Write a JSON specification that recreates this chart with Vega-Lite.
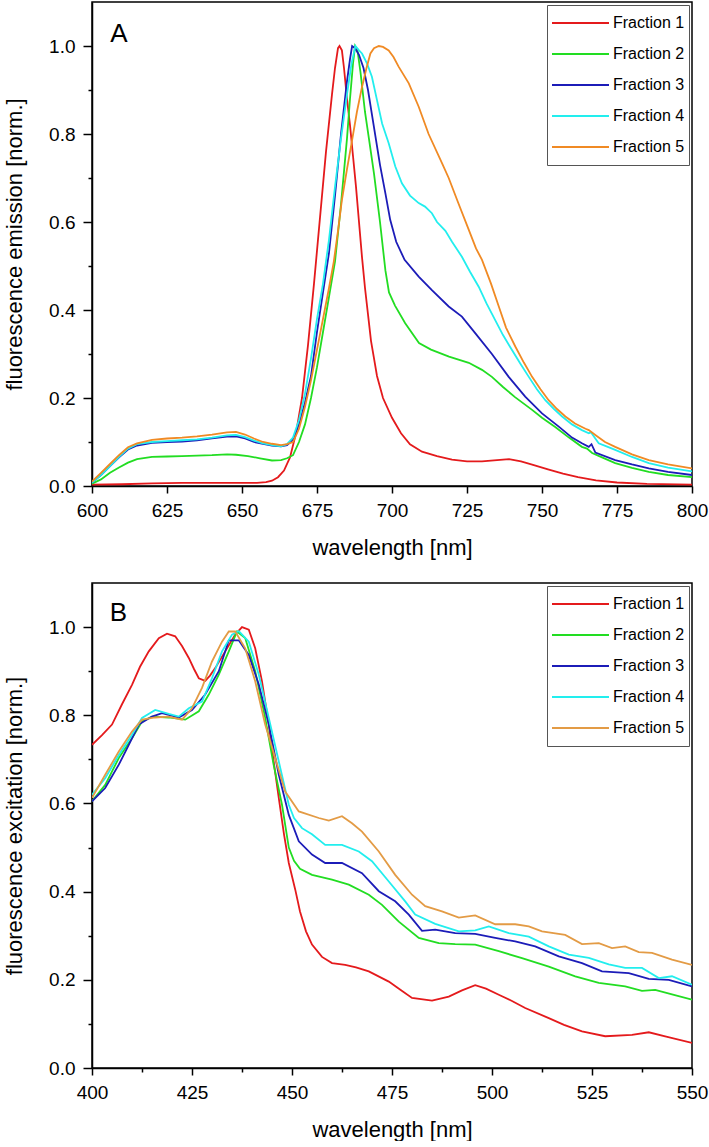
{
"$schema":"https://vega.github.io/schema/vega-lite/v6.json",
"padding":{"left":2,"top":1,"right":0,"bottom":0},
"spacing":23,
"config":{
 "font":"Liberation Sans",
 "view":{"stroke":"black","strokeWidth":1.5},
 "axis":{"domainColor":"black","domainWidth":1.5,"tickColor":"black","tickWidth":1.5,"labelFontSize":19,"titleFontSize":22,"labelColor":"black","titleColor":"black","titleFontWeight":"normal","grid":false,"labelFont":"Liberation Sans","titleFont":"Liberation Sans","labelOverlap":false,"labelFlush":false},
 "legend":{"orient":"top-right","offset":3,"strokeColor":"#555","fillColor":"white","padding":4,"labelFontSize":16,"labelFont":"Liberation Sans","labelColor":"black","symbolType":"stroke","symbolStrokeWidth":2,"symbolSize":3249,"labelOffset":3,"rowPadding":3,"clipHeight":28}
},
"resolve":{"scale":{"color":"independent"},"legend":{"color":"independent"}},
"datasets":{
"em":[
{"s":"Fraction 1","x":600,"y":0.003},{"s":"Fraction 1","x":610,"y":0.004},{"s":"Fraction 1","x":620,"y":0.006},{"s":"Fraction 1","x":630,"y":0.007},{"s":"Fraction 1","x":640,"y":0.007},{"s":"Fraction 1","x":650,"y":0.007},{"s":"Fraction 1","x":655,"y":0.007},{"s":"Fraction 1","x":658,"y":0.009},{"s":"Fraction 1","x":660,"y":0.012},{"s":"Fraction 1","x":662,"y":0.02},{"s":"Fraction 1","x":664,"y":0.035},{"s":"Fraction 1","x":666,"y":0.065},{"s":"Fraction 1","x":668,"y":0.12},{"s":"Fraction 1","x":670,"y":0.2},{"s":"Fraction 1","x":672,"y":0.32},{"s":"Fraction 1","x":674,"y":0.46},{"s":"Fraction 1","x":676,"y":0.61},{"s":"Fraction 1","x":678,"y":0.76},{"s":"Fraction 1","x":680,"y":0.89},{"s":"Fraction 1","x":681,"y":0.95},{"s":"Fraction 1","x":682,"y":0.995},{"s":"Fraction 1","x":682.5,"y":1.0},{"s":"Fraction 1","x":683.3,"y":0.99},{"s":"Fraction 1","x":684,"y":0.95},{"s":"Fraction 1","x":685,"y":0.88},{"s":"Fraction 1","x":686,"y":0.82},{"s":"Fraction 1","x":687,"y":0.75},{"s":"Fraction 1","x":688,"y":0.68},{"s":"Fraction 1","x":689,"y":0.6},{"s":"Fraction 1","x":690,"y":0.52},{"s":"Fraction 1","x":691,"y":0.45},{"s":"Fraction 1","x":692,"y":0.39},{"s":"Fraction 1","x":693,"y":0.33},{"s":"Fraction 1","x":694,"y":0.29},{"s":"Fraction 1","x":695,"y":0.25},{"s":"Fraction 1","x":697,"y":0.2},{"s":"Fraction 1","x":700,"y":0.155},{"s":"Fraction 1","x":703,"y":0.12},{"s":"Fraction 1","x":706,"y":0.095},{"s":"Fraction 1","x":710,"y":0.078},{"s":"Fraction 1","x":715,"y":0.068},{"s":"Fraction 1","x":720,"y":0.06},{"s":"Fraction 1","x":725,"y":0.056},{"s":"Fraction 1","x":730,"y":0.056},{"s":"Fraction 1","x":735,"y":0.059},{"s":"Fraction 1","x":739,"y":0.061},{"s":"Fraction 1","x":743,"y":0.056},{"s":"Fraction 1","x":747,"y":0.048},{"s":"Fraction 1","x":752,"y":0.038},{"s":"Fraction 1","x":757,"y":0.028},{"s":"Fraction 1","x":762,"y":0.02},{"s":"Fraction 1","x":768,"y":0.013},{"s":"Fraction 1","x":775,"y":0.008},{"s":"Fraction 1","x":785,"y":0.005},{"s":"Fraction 1","x":800,"y":0.003},
{"s":"Fraction 2","x":600,"y":0.005},{"s":"Fraction 2","x":603,"y":0.015},{"s":"Fraction 2","x":606,"y":0.03},{"s":"Fraction 2","x":609,"y":0.042},{"s":"Fraction 2","x":612,"y":0.053},{"s":"Fraction 2","x":615,"y":0.061},{"s":"Fraction 2","x":620,"y":0.066},{"s":"Fraction 2","x":625,"y":0.067},{"s":"Fraction 2","x":630,"y":0.068},{"s":"Fraction 2","x":635,"y":0.069},{"s":"Fraction 2","x":640,"y":0.07},{"s":"Fraction 2","x":645,"y":0.072},{"s":"Fraction 2","x":648,"y":0.071},{"s":"Fraction 2","x":652,"y":0.068},{"s":"Fraction 2","x":656,"y":0.063},{"s":"Fraction 2","x":660,"y":0.058},{"s":"Fraction 2","x":663,"y":0.059},{"s":"Fraction 2","x":665,"y":0.063},{"s":"Fraction 2","x":667,"y":0.07},{"s":"Fraction 2","x":669,"y":0.1},{"s":"Fraction 2","x":671,"y":0.14},{"s":"Fraction 2","x":673,"y":0.2},{"s":"Fraction 2","x":675,"y":0.27},{"s":"Fraction 2","x":677,"y":0.35},{"s":"Fraction 2","x":679,"y":0.43},{"s":"Fraction 2","x":681,"y":0.51},{"s":"Fraction 2","x":683,"y":0.64},{"s":"Fraction 2","x":685,"y":0.79},{"s":"Fraction 2","x":686,"y":0.88},{"s":"Fraction 2","x":687,"y":0.96},{"s":"Fraction 2","x":687.7,"y":1.0},{"s":"Fraction 2","x":688.5,"y":0.99},{"s":"Fraction 2","x":689.5,"y":0.94},{"s":"Fraction 2","x":691,"y":0.85},{"s":"Fraction 2","x":692.3,"y":0.79},{"s":"Fraction 2","x":694,"y":0.71},{"s":"Fraction 2","x":696,"y":0.6},{"s":"Fraction 2","x":697.8,"y":0.49},{"s":"Fraction 2","x":699,"y":0.44},{"s":"Fraction 2","x":701,"y":0.41},{"s":"Fraction 2","x":704.4,"y":0.37},{"s":"Fraction 2","x":709,"y":0.325},{"s":"Fraction 2","x":713,"y":0.31},{"s":"Fraction 2","x":719,"y":0.294},{"s":"Fraction 2","x":725.6,"y":0.28},{"s":"Fraction 2","x":730,"y":0.264},{"s":"Fraction 2","x":733.3,"y":0.248},{"s":"Fraction 2","x":737,"y":0.225},{"s":"Fraction 2","x":741,"y":0.202},{"s":"Fraction 2","x":746.7,"y":0.173},{"s":"Fraction 2","x":750,"y":0.155},{"s":"Fraction 2","x":754.4,"y":0.134},{"s":"Fraction 2","x":759,"y":0.11},{"s":"Fraction 2","x":763.3,"y":0.089},{"s":"Fraction 2","x":765,"y":0.085},{"s":"Fraction 2","x":766.7,"y":0.075},{"s":"Fraction 2","x":770,"y":0.065},{"s":"Fraction 2","x":774.4,"y":0.052},{"s":"Fraction 2","x":780,"y":0.041},{"s":"Fraction 2","x":785.6,"y":0.032},{"s":"Fraction 2","x":792,"y":0.025},{"s":"Fraction 2","x":800,"y":0.02},
{"s":"Fraction 3","x":600,"y":0.008},{"s":"Fraction 3","x":603,"y":0.025},{"s":"Fraction 3","x":606,"y":0.045},{"s":"Fraction 3","x":609,"y":0.065},{"s":"Fraction 3","x":612,"y":0.083},{"s":"Fraction 3","x":615,"y":0.092},{"s":"Fraction 3","x":620,"y":0.098},{"s":"Fraction 3","x":625,"y":0.1},{"s":"Fraction 3","x":630,"y":0.101},{"s":"Fraction 3","x":635,"y":0.104},{"s":"Fraction 3","x":640,"y":0.108},{"s":"Fraction 3","x":645,"y":0.112},{"s":"Fraction 3","x":648,"y":0.113},{"s":"Fraction 3","x":651,"y":0.108},{"s":"Fraction 3","x":654,"y":0.1},{"s":"Fraction 3","x":657,"y":0.096},{"s":"Fraction 3","x":660,"y":0.092},{"s":"Fraction 3","x":663,"y":0.09},{"s":"Fraction 3","x":665,"y":0.093},{"s":"Fraction 3","x":667,"y":0.105},{"s":"Fraction 3","x":669,"y":0.14},{"s":"Fraction 3","x":671,"y":0.19},{"s":"Fraction 3","x":673,"y":0.25},{"s":"Fraction 3","x":675,"y":0.35},{"s":"Fraction 3","x":677,"y":0.44},{"s":"Fraction 3","x":679,"y":0.53},{"s":"Fraction 3","x":681,"y":0.66},{"s":"Fraction 3","x":683,"y":0.8},{"s":"Fraction 3","x":685,"y":0.92},{"s":"Fraction 3","x":686,"y":0.97},{"s":"Fraction 3","x":686.7,"y":1.0},{"s":"Fraction 3","x":687.7,"y":0.995},{"s":"Fraction 3","x":689,"y":0.98},{"s":"Fraction 3","x":690.5,"y":0.95},{"s":"Fraction 3","x":692,"y":0.9},{"s":"Fraction 3","x":694,"y":0.815},{"s":"Fraction 3","x":696,"y":0.73},{"s":"Fraction 3","x":697.8,"y":0.665},{"s":"Fraction 3","x":699.4,"y":0.605},{"s":"Fraction 3","x":701.4,"y":0.555},{"s":"Fraction 3","x":704.2,"y":0.514},{"s":"Fraction 3","x":708.9,"y":0.476},{"s":"Fraction 3","x":713.3,"y":0.445},{"s":"Fraction 3","x":718.9,"y":0.408},{"s":"Fraction 3","x":723.3,"y":0.385},{"s":"Fraction 3","x":727.8,"y":0.347},{"s":"Fraction 3","x":733.3,"y":0.3},{"s":"Fraction 3","x":738.9,"y":0.248},{"s":"Fraction 3","x":744.4,"y":0.203},{"s":"Fraction 3","x":750,"y":0.165},{"s":"Fraction 3","x":755.6,"y":0.135},{"s":"Fraction 3","x":760,"y":0.11},{"s":"Fraction 3","x":763.3,"y":0.097},{"s":"Fraction 3","x":765.6,"y":0.089},{"s":"Fraction 3","x":766.5,"y":0.095},{"s":"Fraction 3","x":767.8,"y":0.076},{"s":"Fraction 3","x":774.4,"y":0.059},{"s":"Fraction 3","x":780,"y":0.049},{"s":"Fraction 3","x":785.6,"y":0.04},{"s":"Fraction 3","x":792,"y":0.032},{"s":"Fraction 3","x":800,"y":0.025},
{"s":"Fraction 4","x":600,"y":0.008},{"s":"Fraction 4","x":603,"y":0.025},{"s":"Fraction 4","x":606,"y":0.045},{"s":"Fraction 4","x":609,"y":0.066},{"s":"Fraction 4","x":612,"y":0.085},{"s":"Fraction 4","x":615,"y":0.095},{"s":"Fraction 4","x":620,"y":0.1},{"s":"Fraction 4","x":625,"y":0.102},{"s":"Fraction 4","x":630,"y":0.104},{"s":"Fraction 4","x":635,"y":0.106},{"s":"Fraction 4","x":640,"y":0.11},{"s":"Fraction 4","x":645,"y":0.115},{"s":"Fraction 4","x":648,"y":0.116},{"s":"Fraction 4","x":651,"y":0.111},{"s":"Fraction 4","x":654,"y":0.103},{"s":"Fraction 4","x":657,"y":0.097},{"s":"Fraction 4","x":660,"y":0.093},{"s":"Fraction 4","x":663,"y":0.09},{"s":"Fraction 4","x":665,"y":0.095},{"s":"Fraction 4","x":667,"y":0.11},{"s":"Fraction 4","x":669,"y":0.15},{"s":"Fraction 4","x":671,"y":0.21},{"s":"Fraction 4","x":673,"y":0.29},{"s":"Fraction 4","x":675,"y":0.38},{"s":"Fraction 4","x":677,"y":0.46},{"s":"Fraction 4","x":679,"y":0.56},{"s":"Fraction 4","x":681,"y":0.68},{"s":"Fraction 4","x":683,"y":0.79},{"s":"Fraction 4","x":685,"y":0.89},{"s":"Fraction 4","x":686.5,"y":0.96},{"s":"Fraction 4","x":687.8,"y":1.0},{"s":"Fraction 4","x":689,"y":0.99},{"s":"Fraction 4","x":690,"y":0.983},{"s":"Fraction 4","x":691.7,"y":0.96},{"s":"Fraction 4","x":693.3,"y":0.93},{"s":"Fraction 4","x":695,"y":0.877},{"s":"Fraction 4","x":696.7,"y":0.824},{"s":"Fraction 4","x":698.9,"y":0.779},{"s":"Fraction 4","x":701.1,"y":0.726},{"s":"Fraction 4","x":703.3,"y":0.688},{"s":"Fraction 4","x":706,"y":0.66},{"s":"Fraction 4","x":708.9,"y":0.643},{"s":"Fraction 4","x":711,"y":0.635},{"s":"Fraction 4","x":713.3,"y":0.62},{"s":"Fraction 4","x":715,"y":0.6},{"s":"Fraction 4","x":717.8,"y":0.58},{"s":"Fraction 4","x":720,"y":0.555},{"s":"Fraction 4","x":723.3,"y":0.521},{"s":"Fraction 4","x":726,"y":0.487},{"s":"Fraction 4","x":728.9,"y":0.453},{"s":"Fraction 4","x":731.5,"y":0.415},{"s":"Fraction 4","x":734.4,"y":0.377},{"s":"Fraction 4","x":737,"y":0.343},{"s":"Fraction 4","x":740,"y":0.309},{"s":"Fraction 4","x":742.8,"y":0.278},{"s":"Fraction 4","x":745.6,"y":0.248},{"s":"Fraction 4","x":748.3,"y":0.22},{"s":"Fraction 4","x":751.1,"y":0.195},{"s":"Fraction 4","x":754,"y":0.175},{"s":"Fraction 4","x":756.7,"y":0.158},{"s":"Fraction 4","x":760,"y":0.14},{"s":"Fraction 4","x":763.3,"y":0.127},{"s":"Fraction 4","x":765.6,"y":0.12},{"s":"Fraction 4","x":766.3,"y":0.122},{"s":"Fraction 4","x":768.9,"y":0.097},{"s":"Fraction 4","x":771.5,"y":0.09},{"s":"Fraction 4","x":774.4,"y":0.082},{"s":"Fraction 4","x":780,"y":0.066},{"s":"Fraction 4","x":785.6,"y":0.052},{"s":"Fraction 4","x":792,"y":0.042},{"s":"Fraction 4","x":800,"y":0.033},
{"s":"Fraction 5","x":600,"y":0.01},{"s":"Fraction 5","x":603,"y":0.03},{"s":"Fraction 5","x":606,"y":0.05},{"s":"Fraction 5","x":609,"y":0.07},{"s":"Fraction 5","x":612,"y":0.088},{"s":"Fraction 5","x":615,"y":0.097},{"s":"Fraction 5","x":620,"y":0.105},{"s":"Fraction 5","x":625,"y":0.108},{"s":"Fraction 5","x":630,"y":0.11},{"s":"Fraction 5","x":635,"y":0.113},{"s":"Fraction 5","x":640,"y":0.117},{"s":"Fraction 5","x":645,"y":0.122},{"s":"Fraction 5","x":648,"y":0.123},{"s":"Fraction 5","x":651,"y":0.117},{"s":"Fraction 5","x":654,"y":0.108},{"s":"Fraction 5","x":657,"y":0.1},{"s":"Fraction 5","x":660,"y":0.096},{"s":"Fraction 5","x":663,"y":0.093},{"s":"Fraction 5","x":665,"y":0.095},{"s":"Fraction 5","x":667,"y":0.1},{"s":"Fraction 5","x":669,"y":0.13},{"s":"Fraction 5","x":671,"y":0.18},{"s":"Fraction 5","x":673,"y":0.24},{"s":"Fraction 5","x":675,"y":0.31},{"s":"Fraction 5","x":677,"y":0.38},{"s":"Fraction 5","x":679,"y":0.45},{"s":"Fraction 5","x":680.6,"y":0.51},{"s":"Fraction 5","x":682,"y":0.58},{"s":"Fraction 5","x":683.3,"y":0.65},{"s":"Fraction 5","x":685,"y":0.72},{"s":"Fraction 5","x":686.7,"y":0.786},{"s":"Fraction 5","x":688.3,"y":0.85},{"s":"Fraction 5","x":690,"y":0.907},{"s":"Fraction 5","x":691.5,"y":0.95},{"s":"Fraction 5","x":692.8,"y":0.983},{"s":"Fraction 5","x":694,"y":0.995},{"s":"Fraction 5","x":695.6,"y":1.0},{"s":"Fraction 5","x":697,"y":0.998},{"s":"Fraction 5","x":698.9,"y":0.99},{"s":"Fraction 5","x":700.5,"y":0.975},{"s":"Fraction 5","x":702.2,"y":0.953},{"s":"Fraction 5","x":705.6,"y":0.915},{"s":"Fraction 5","x":708.9,"y":0.862},{"s":"Fraction 5","x":712.2,"y":0.8},{"s":"Fraction 5","x":716.7,"y":0.733},{"s":"Fraction 5","x":718.9,"y":0.7},{"s":"Fraction 5","x":722,"y":0.645},{"s":"Fraction 5","x":725.6,"y":0.582},{"s":"Fraction 5","x":728,"y":0.54},{"s":"Fraction 5","x":730,"y":0.514},{"s":"Fraction 5","x":733,"y":0.46},{"s":"Fraction 5","x":735.6,"y":0.408},{"s":"Fraction 5","x":738,"y":0.36},{"s":"Fraction 5","x":741.1,"y":0.317},{"s":"Fraction 5","x":744,"y":0.28},{"s":"Fraction 5","x":746.7,"y":0.248},{"s":"Fraction 5","x":749.5,"y":0.22},{"s":"Fraction 5","x":752.2,"y":0.195},{"s":"Fraction 5","x":755,"y":0.175},{"s":"Fraction 5","x":757.8,"y":0.158},{"s":"Fraction 5","x":761,"y":0.142},{"s":"Fraction 5","x":764.5,"y":0.13},{"s":"Fraction 5","x":765.6,"y":0.127},{"s":"Fraction 5","x":768,"y":0.115},{"s":"Fraction 5","x":771,"y":0.1},{"s":"Fraction 5","x":774.4,"y":0.089},{"s":"Fraction 5","x":780,"y":0.072},{"s":"Fraction 5","x":785.6,"y":0.059},{"s":"Fraction 5","x":792,"y":0.049},{"s":"Fraction 5","x":800,"y":0.04}
],
"ex":[
{"s":"Fraction 1","x":400,"y":0.733},{"s":"Fraction 1","x":402.5,"y":0.755},{"s":"Fraction 1","x":405,"y":0.779},{"s":"Fraction 1","x":407.5,"y":0.825},{"s":"Fraction 1","x":410,"y":0.869},{"s":"Fraction 1","x":412,"y":0.91},{"s":"Fraction 1","x":414.2,"y":0.945},{"s":"Fraction 1","x":416.7,"y":0.975},{"s":"Fraction 1","x":418.75,"y":0.985},{"s":"Fraction 1","x":420.8,"y":0.979},{"s":"Fraction 1","x":422.5,"y":0.957},{"s":"Fraction 1","x":424.2,"y":0.93},{"s":"Fraction 1","x":425.5,"y":0.905},{"s":"Fraction 1","x":426.7,"y":0.884},{"s":"Fraction 1","x":428.3,"y":0.878},{"s":"Fraction 1","x":429.5,"y":0.89},{"s":"Fraction 1","x":430.8,"y":0.907},{"s":"Fraction 1","x":433.3,"y":0.945},{"s":"Fraction 1","x":435.8,"y":0.983},{"s":"Fraction 1","x":437.5,"y":1.0},{"s":"Fraction 1","x":439.2,"y":0.994},{"s":"Fraction 1","x":440.8,"y":0.952},{"s":"Fraction 1","x":442.5,"y":0.877},{"s":"Fraction 1","x":444.2,"y":0.779},{"s":"Fraction 1","x":445.5,"y":0.69},{"s":"Fraction 1","x":446.7,"y":0.612},{"s":"Fraction 1","x":448,"y":0.53},{"s":"Fraction 1","x":449.2,"y":0.465},{"s":"Fraction 1","x":450.8,"y":0.405},{"s":"Fraction 1","x":452,"y":0.355},{"s":"Fraction 1","x":453.5,"y":0.31},{"s":"Fraction 1","x":455,"y":0.28},{"s":"Fraction 1","x":457.5,"y":0.252},{"s":"Fraction 1","x":460,"y":0.238},{"s":"Fraction 1","x":463.3,"y":0.234},{"s":"Fraction 1","x":466,"y":0.228},{"s":"Fraction 1","x":469.2,"y":0.219},{"s":"Fraction 1","x":474.2,"y":0.196},{"s":"Fraction 1","x":477,"y":0.178},{"s":"Fraction 1","x":480,"y":0.159},{"s":"Fraction 1","x":485,"y":0.153},{"s":"Fraction 1","x":489.2,"y":0.162},{"s":"Fraction 1","x":492.5,"y":0.176},{"s":"Fraction 1","x":495.8,"y":0.188},{"s":"Fraction 1","x":498.5,"y":0.18},{"s":"Fraction 1","x":501.7,"y":0.166},{"s":"Fraction 1","x":505,"y":0.152},{"s":"Fraction 1","x":508.3,"y":0.136},{"s":"Fraction 1","x":514.2,"y":0.113},{"s":"Fraction 1","x":518,"y":0.098},{"s":"Fraction 1","x":522.5,"y":0.083},{"s":"Fraction 1","x":528.3,"y":0.072},{"s":"Fraction 1","x":535,"y":0.075},{"s":"Fraction 1","x":539.2,"y":0.081},{"s":"Fraction 1","x":543.3,"y":0.072},{"s":"Fraction 1","x":550,"y":0.057},
{"s":"Fraction 2","x":400,"y":0.605},{"s":"Fraction 2","x":403.3,"y":0.642},{"s":"Fraction 2","x":406.7,"y":0.703},{"s":"Fraction 2","x":410,"y":0.748},{"s":"Fraction 2","x":412.5,"y":0.786},{"s":"Fraction 2","x":415,"y":0.797},{"s":"Fraction 2","x":419.2,"y":0.795},{"s":"Fraction 2","x":423.3,"y":0.79},{"s":"Fraction 2","x":426.7,"y":0.809},{"s":"Fraction 2","x":429.2,"y":0.847},{"s":"Fraction 2","x":431.7,"y":0.892},{"s":"Fraction 2","x":434.2,"y":0.945},{"s":"Fraction 2","x":436.25,"y":0.99},{"s":"Fraction 2","x":438.3,"y":0.975},{"s":"Fraction 2","x":440.8,"y":0.9},{"s":"Fraction 2","x":443.3,"y":0.794},{"s":"Fraction 2","x":445.4,"y":0.688},{"s":"Fraction 2","x":447.5,"y":0.597},{"s":"Fraction 2","x":449.2,"y":0.5},{"s":"Fraction 2","x":450.5,"y":0.47},{"s":"Fraction 2","x":452,"y":0.452},{"s":"Fraction 2","x":455,"y":0.438},{"s":"Fraction 2","x":460,"y":0.427},{"s":"Fraction 2","x":464.2,"y":0.416},{"s":"Fraction 2","x":469.2,"y":0.393},{"s":"Fraction 2","x":472.5,"y":0.37},{"s":"Fraction 2","x":476.7,"y":0.332},{"s":"Fraction 2","x":481.7,"y":0.295},{"s":"Fraction 2","x":486.7,"y":0.283},{"s":"Fraction 2","x":490.8,"y":0.281},{"s":"Fraction 2","x":495.8,"y":0.28},{"s":"Fraction 2","x":501.7,"y":0.265},{"s":"Fraction 2","x":507.5,"y":0.249},{"s":"Fraction 2","x":514.2,"y":0.23},{"s":"Fraction 2","x":520.8,"y":0.208},{"s":"Fraction 2","x":526.7,"y":0.193},{"s":"Fraction 2","x":533.3,"y":0.185},{"s":"Fraction 2","x":537.5,"y":0.175},{"s":"Fraction 2","x":540.8,"y":0.177},{"s":"Fraction 2","x":545,"y":0.167},{"s":"Fraction 2","x":550,"y":0.155},
{"s":"Fraction 3","x":400,"y":0.605},{"s":"Fraction 3","x":403.3,"y":0.635},{"s":"Fraction 3","x":406.7,"y":0.688},{"s":"Fraction 3","x":409.2,"y":0.733},{"s":"Fraction 3","x":411.7,"y":0.779},{"s":"Fraction 3","x":415,"y":0.797},{"s":"Fraction 3","x":417.5,"y":0.805},{"s":"Fraction 3","x":421.7,"y":0.795},{"s":"Fraction 3","x":425,"y":0.812},{"s":"Fraction 3","x":428.3,"y":0.847},{"s":"Fraction 3","x":431.7,"y":0.9},{"s":"Fraction 3","x":434.2,"y":0.97},{"s":"Fraction 3","x":436.7,"y":0.97},{"s":"Fraction 3","x":439.2,"y":0.937},{"s":"Fraction 3","x":441.7,"y":0.87},{"s":"Fraction 3","x":444.2,"y":0.779},{"s":"Fraction 3","x":446.7,"y":0.665},{"s":"Fraction 3","x":449.2,"y":0.574},{"s":"Fraction 3","x":451.7,"y":0.514},{"s":"Fraction 3","x":455,"y":0.484},{"s":"Fraction 3","x":458.3,"y":0.465},{"s":"Fraction 3","x":462.5,"y":0.465},{"s":"Fraction 3","x":467.5,"y":0.442},{"s":"Fraction 3","x":471.7,"y":0.401},{"s":"Fraction 3","x":475.8,"y":0.378},{"s":"Fraction 3","x":479.2,"y":0.348},{"s":"Fraction 3","x":482.5,"y":0.311},{"s":"Fraction 3","x":485.8,"y":0.314},{"s":"Fraction 3","x":490.8,"y":0.306},{"s":"Fraction 3","x":495.8,"y":0.304},{"s":"Fraction 3","x":500.8,"y":0.295},{"s":"Fraction 3","x":505.8,"y":0.287},{"s":"Fraction 3","x":510.8,"y":0.276},{"s":"Fraction 3","x":516.7,"y":0.253},{"s":"Fraction 3","x":522.5,"y":0.238},{"s":"Fraction 3","x":527.5,"y":0.219},{"s":"Fraction 3","x":534.2,"y":0.215},{"s":"Fraction 3","x":539.2,"y":0.202},{"s":"Fraction 3","x":544.2,"y":0.2},{"s":"Fraction 3","x":550,"y":0.185},
{"s":"Fraction 4","x":400,"y":0.62},{"s":"Fraction 4","x":403.3,"y":0.657},{"s":"Fraction 4","x":406.7,"y":0.71},{"s":"Fraction 4","x":410,"y":0.756},{"s":"Fraction 4","x":412.5,"y":0.794},{"s":"Fraction 4","x":415.8,"y":0.812},{"s":"Fraction 4","x":419.2,"y":0.803},{"s":"Fraction 4","x":421.7,"y":0.797},{"s":"Fraction 4","x":424.2,"y":0.816},{"s":"Fraction 4","x":427.5,"y":0.831},{"s":"Fraction 4","x":430,"y":0.884},{"s":"Fraction 4","x":432.5,"y":0.945},{"s":"Fraction 4","x":435,"y":0.983},{"s":"Fraction 4","x":436.7,"y":0.991},{"s":"Fraction 4","x":439.2,"y":0.967},{"s":"Fraction 4","x":441.7,"y":0.892},{"s":"Fraction 4","x":444.2,"y":0.794},{"s":"Fraction 4","x":446.7,"y":0.695},{"s":"Fraction 4","x":449.2,"y":0.597},{"s":"Fraction 4","x":450.5,"y":0.567},{"s":"Fraction 4","x":452.5,"y":0.544},{"s":"Fraction 4","x":455,"y":0.53},{"s":"Fraction 4","x":458.3,"y":0.506},{"s":"Fraction 4","x":462.5,"y":0.506},{"s":"Fraction 4","x":466.7,"y":0.491},{"s":"Fraction 4","x":470,"y":0.469},{"s":"Fraction 4","x":474.2,"y":0.423},{"s":"Fraction 4","x":478.3,"y":0.378},{"s":"Fraction 4","x":480.8,"y":0.348},{"s":"Fraction 4","x":485.8,"y":0.327},{"s":"Fraction 4","x":491.7,"y":0.31},{"s":"Fraction 4","x":495.8,"y":0.312},{"s":"Fraction 4","x":499.2,"y":0.321},{"s":"Fraction 4","x":504.2,"y":0.306},{"s":"Fraction 4","x":509.2,"y":0.298},{"s":"Fraction 4","x":514.2,"y":0.276},{"s":"Fraction 4","x":519.2,"y":0.257},{"s":"Fraction 4","x":524.2,"y":0.25},{"s":"Fraction 4","x":529.2,"y":0.235},{"s":"Fraction 4","x":533.3,"y":0.227},{"s":"Fraction 4","x":537.5,"y":0.227},{"s":"Fraction 4","x":541.7,"y":0.204},{"s":"Fraction 4","x":545,"y":0.208},{"s":"Fraction 4","x":550,"y":0.189},
{"s":"Fraction 5","x":400,"y":0.613},{"s":"Fraction 5","x":403.3,"y":0.665},{"s":"Fraction 5","x":406.7,"y":0.718},{"s":"Fraction 5","x":410,"y":0.763},{"s":"Fraction 5","x":412.5,"y":0.79},{"s":"Fraction 5","x":415.8,"y":0.795},{"s":"Fraction 5","x":419.2,"y":0.797},{"s":"Fraction 5","x":422.5,"y":0.79},{"s":"Fraction 5","x":425,"y":0.816},{"s":"Fraction 5","x":427.5,"y":0.862},{"s":"Fraction 5","x":430,"y":0.922},{"s":"Fraction 5","x":432.5,"y":0.967},{"s":"Fraction 5","x":434.2,"y":0.99},{"s":"Fraction 5","x":435.8,"y":0.99},{"s":"Fraction 5","x":438.3,"y":0.952},{"s":"Fraction 5","x":440.8,"y":0.877},{"s":"Fraction 5","x":443.3,"y":0.779},{"s":"Fraction 5","x":445.8,"y":0.703},{"s":"Fraction 5","x":448.3,"y":0.627},{"s":"Fraction 5","x":451.7,"y":0.582},{"s":"Fraction 5","x":456.7,"y":0.567},{"s":"Fraction 5","x":459.2,"y":0.561},{"s":"Fraction 5","x":462.5,"y":0.571},{"s":"Fraction 5","x":465,"y":0.555},{"s":"Fraction 5","x":467.5,"y":0.536},{"s":"Fraction 5","x":471.7,"y":0.491},{"s":"Fraction 5","x":475.8,"y":0.438},{"s":"Fraction 5","x":480,"y":0.393},{"s":"Fraction 5","x":483.3,"y":0.367},{"s":"Fraction 5","x":487.5,"y":0.355},{"s":"Fraction 5","x":491.7,"y":0.341},{"s":"Fraction 5","x":495.8,"y":0.346},{"s":"Fraction 5","x":500.8,"y":0.326},{"s":"Fraction 5","x":505.8,"y":0.326},{"s":"Fraction 5","x":509.2,"y":0.321},{"s":"Fraction 5","x":512.5,"y":0.31},{"s":"Fraction 5","x":518.3,"y":0.302},{"s":"Fraction 5","x":522.5,"y":0.281},{"s":"Fraction 5","x":526.7,"y":0.283},{"s":"Fraction 5","x":530,"y":0.272},{"s":"Fraction 5","x":533.3,"y":0.276},{"s":"Fraction 5","x":536.7,"y":0.263},{"s":"Fraction 5","x":540,"y":0.261},{"s":"Fraction 5","x":545,"y":0.246},{"s":"Fraction 5","x":550,"y":0.234}
]
},
"vconcat":[
{
 "width":600,"height":484,
 "layer":[
  {"data":{"name":"em"},
   "mark":{"type":"line","strokeWidth":1.8,"clip":true},
   "encoding":{
    "x":{"field":"x","type":"quantitative","scale":{"domain":[600,800],"nice":false,"zero":false},
     "axis":{"title":"wavelength [nm]","values":[600,612.5,625,637.5,650,662.5,675,687.5,700,712.5,725,737.5,750,762.5,775,787.5,800],"format":"d","labelExpr":"datum.value % 25 == 0 ? datum.label : ''","tickSize":{"condition":{"test":"datum.value % 25 == 0","value":7},"value":4},"labelPadding":8,"titlePadding":17}},
    "y":{"field":"y","type":"quantitative","scale":{"domain":[0,1.1],"nice":false},
     "axis":{"title":"fluorescence emission [norm.]","values":[0,0.1,0.2,0.3,0.4,0.5,0.6,0.7,0.8,0.9,1.0],"format":".1f","labelExpr":"round(datum.value*10) % 2 == 0 ? datum.label : ''","tickSize":{"condition":{"test":"round(datum.value*10) % 2 == 0","value":9},"value":4},"labelPadding":8,"titlePadding":22}},
    "color":{"field":"s","type":"nominal","scale":{"domain":["Fraction 1","Fraction 2","Fraction 3","Fraction 4","Fraction 5"],"range":["#e41a1c","#22dd22","#1c1cb8","#22eeee","#f08a24"]},"legend":{"title":null}},
    "order":{"field":"s"}
   }},
  {"data":{"values":[{"label":"A"}]},
   "mark":{"type":"text","fontSize":26,"align":"center","baseline":"middle","font":"Liberation Sans","color":"black"},
   "encoding":{"x":{"datum":609},"y":{"datum":1.027},"text":{"field":"label"}}}
 ]
},
{
 "width":600,"height":485,
 "layer":[
  {"data":{"name":"ex"},
   "mark":{"type":"line","strokeWidth":1.8,"clip":true},
   "encoding":{
    "x":{"field":"x","type":"quantitative","scale":{"domain":[400,550],"nice":false,"zero":false},
     "axis":{"title":"wavelength [nm]","values":[400,412.5,425,437.5,450,462.5,475,487.5,500,512.5,525,537.5,550],"format":"d","labelExpr":"datum.value % 25 == 0 ? datum.label : ''","tickSize":{"condition":{"test":"datum.value % 25 == 0","value":7},"value":4},"labelPadding":8,"titlePadding":17}},
    "y":{"field":"y","type":"quantitative","scale":{"domain":[0,1.1],"nice":false},
     "axis":{"title":"fluorescence excitation [norm.]","values":[0,0.1,0.2,0.3,0.4,0.5,0.6,0.7,0.8,0.9,1.0],"format":".1f","labelExpr":"round(datum.value*10) % 2 == 0 ? datum.label : ''","tickSize":{"condition":{"test":"round(datum.value*10) % 2 == 0","value":9},"value":4},"labelPadding":8,"titlePadding":22}},
    "color":{"field":"s","type":"nominal","scale":{"domain":["Fraction 1","Fraction 2","Fraction 3","Fraction 4","Fraction 5"],"range":["#e41a1c","#22dd22","#1c1cb8","#22eeee","#e39b45"]},"legend":{"title":null}},
    "order":{"field":"s"}
   }},
  {"data":{"values":[{"label":"B"}]},
   "mark":{"type":"text","fontSize":26,"align":"center","baseline":"middle","font":"Liberation Sans","color":"black"},
   "encoding":{"x":{"datum":406.6},"y":{"datum":1.032},"text":{"field":"label"}}}
 ]
}
]
}
